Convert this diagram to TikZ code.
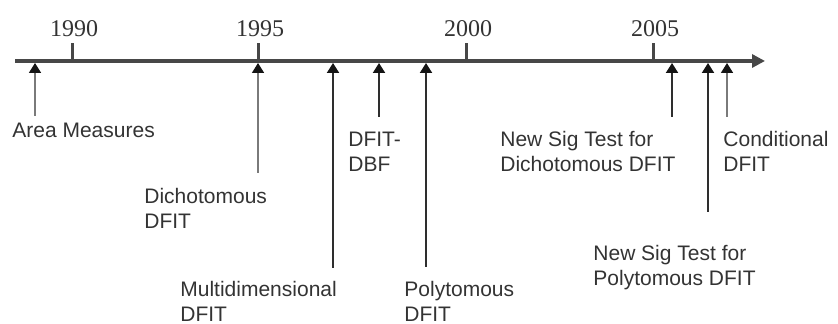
\documentclass[tikz,border=0pt]{standalone}
\usepackage{fontspec}
\setmainfont{Liberation Serif}
\setsansfont{Liberation Sans}
\usepackage{tikz}
\usetikzlibrary{arrows.meta}
\definecolor{tlink}{HTML}{333333}
\definecolor{tlaxis}{HTML}{474747}
\definecolor{tldark}{HTML}{2E2E2E}
\definecolor{tllight}{HTML}{7A7A7A}
\definecolor{tltip}{HTML}{141414}
\tikzset{
  axisline/.style={-{Triangle[length=6.5pt,width=6.5pt]},line width=1.6pt,draw=tlaxis},
  yeartick/.style={line width=1.5pt,draw=tlaxis},
  yearlab/.style={font=\rmfamily\fontsize{12}{14}\selectfont,text=tlink,inner sep=0pt,anchor=base},
  evdark/.style={-{Triangle[length=5pt,width=6pt,color=tltip]},line width=1pt,draw=tldark},
  evlight/.style={-{Triangle[length=5pt,width=6pt,color=tltip]},line width=0.8pt,draw=tllight},
  evlab/.style={font=\sffamily\fontsize{10.5}{12.5}\selectfont,text=tlink,
                align=left,inner sep=0pt,anchor=base west},
}

\begin{document}
\begin{tikzpicture}[x=0.5pt,y=-0.5pt]
  \useasboundingbox (0,0) rectangle (838,324);

  % ================= time axis =================
  \coordinate (ax0) at (15,61);
  \coordinate (ax1) at (765,61);
  \draw[axisline] (ax0) -- (ax1);

  % year ticks
  \foreach \yr/\xx in {1990/72,1995/258,2000/466,2005/653}{
    \coordinate (t\yr) at (\xx,61);
    \coordinate (tt\yr) at (\xx,43);
    \draw[yeartick] (t\yr) -- (tt\yr);
    \node[yearlab] (y\yr) at (\xx+2,37) {\yr};
  }

  % ================= events =================
  \coordinate (aream)  at (35,63);   \coordinate (aream0)  at (35,116);
  \coordinate (dicho)  at (258,63);  \coordinate (dicho0)  at (258,173);
  \coordinate (multi)  at (333,63);  \coordinate (multi0)  at (333,268);
  \coordinate (dbf)    at (379,63);  \coordinate (dbf0)    at (379,117);
  \coordinate (poly)   at (426,63);  \coordinate (poly0)   at (426,267);
  \coordinate (sigd)   at (672,63);  \coordinate (sigd0)   at (672,117);
  \coordinate (sigp)   at (708,63);  \coordinate (sigp0)   at (708,212);
  \coordinate (cond)   at (727,63);  \coordinate (cond0)   at (727,117);

  \draw[evlight] (aream0) -- (aream);
  \draw[evlight] (dicho0) -- (dicho);
  \draw[evdark]  (multi0) -- (multi);
  \draw[evdark]  (dbf0)   -- (dbf);
  \draw[evdark]  (poly0)  -- (poly);
  \draw[evdark]  (sigd0)  -- (sigd);
  \draw[evdark]  (sigp0)  -- (sigp);
  \draw[evlight] (cond0)  -- (cond);

  % labels (base = last line)
  \node[evlab] (laream) at (12,138)  {Area Measures};
  \node[evlab] (ldicho) at (144,229) {Dichotomous\\DFIT};
  \node[evlab] (lmulti) at (180,322) {Multidimensional\\DFIT};
  \node[evlab] (ldbf)   at (348,172) {DFIT-\\DBF};
  \node[evlab] (lpoly)  at (404,322) {Polytomous\\DFIT};
  \node[evlab] (lsigd)  at (500,172) {New Sig Test for\\Dichotomous DFIT};
  \node[evlab] (lsigp)  at (593,286) {New Sig Test for\\Polytomous DFIT};
  \node[evlab] (lcond)  at (723,172) {Conditional\\DFIT};
\end{tikzpicture}
\end{document}
